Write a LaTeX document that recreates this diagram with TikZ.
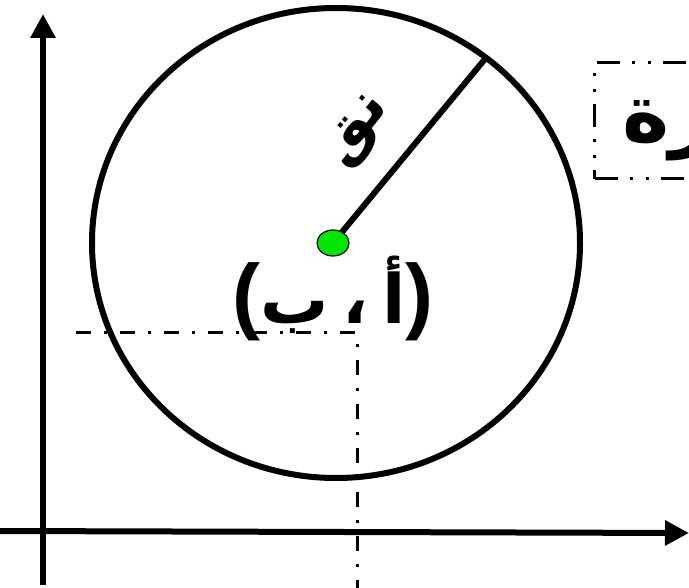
\documentclass[tikz,border=0pt]{standalone}
\usepackage{fontspec}
\newfontfamily\arabicfont[Script=Arabic]{DejaVu Sans}
\newfontfamily\parfont{Liberation Sans}
\TeXXeTstate=1
\definecolor{dotgreen}{HTML}{00E600}
\usetikzlibrary{arrows.meta,positioning,shapes.geometric}

\newcommand\bigpar[1]{{\parfont\bfseries\fontsize{84}{90}\selectfont#1}}

\begin{document}
\begin{tikzpicture}[x=1pt,y=-1pt,
  axis/.style={line width=6pt,-{Triangle[length=24pt,width=24pt]}},
  guide/.style={line width=3pt,dash pattern=on 15pt off 13pt on 3pt off 13pt},
  arlabel/.style={font=\arabicfont\bfseries\fontsize{68}{76}\selectfont,inner sep=0pt}]
  \useasboundingbox (0,0) rectangle (689,588);
  \clip (0,0) rectangle (689,588);
  \coordinate (xa) at (0,531);
  \coordinate (xb) at (689,533);
  \coordinate (ya) at (43,585);
  \coordinate (yb) at (43,14);
  \coordinate (ga) at (76,333);
  \coordinate (gb) at (357,333);
  \coordinate (gc) at (357,592);
  \coordinate (c) at (333,243);
  \draw[guide] (ga) -- (gb) -- (gc);
  \draw[axis] (xa) -- (xb);
  \draw[axis] (ya) -- (yb);
  \node[draw,ellipse,line width=6pt,minimum width=488pt,minimum height=470pt,
    inner sep=0pt,outer sep=0pt] (circ) at (336,243) {};
  \draw[line width=6pt] (c) -- (circ.51);
  \node[ellipse,draw,fill=dotgreen,line width=1.2pt,minimum width=32pt,
    minimum height=26pt,inner sep=0pt] (ctr) at (c) {};
  \node[arlabel] (pt) at (333,298)
    {\bigpar{(}\beginR أ\hspace{14pt}،\hspace{14pt}ب\endR\bigpar{)}};
  \node[arlabel,font=\arabicfont\bfseries\fontsize{60}{66}\selectfont,rotate=51]
    (rlab) at (360,132) {\beginR نق\endR};
  \node[arlabel,font=\arabicfont\bfseries\fontsize{80}{88}\selectfont,draw,
    line width=3pt,dash pattern=on 23pt off 12pt on 3pt off 13pt on 3pt off 12pt,
    anchor=west,minimum height=116pt,inner xsep=28pt] (title) at (593,121)
    {\beginR دائرة\endR};
\end{tikzpicture}
\end{document}
